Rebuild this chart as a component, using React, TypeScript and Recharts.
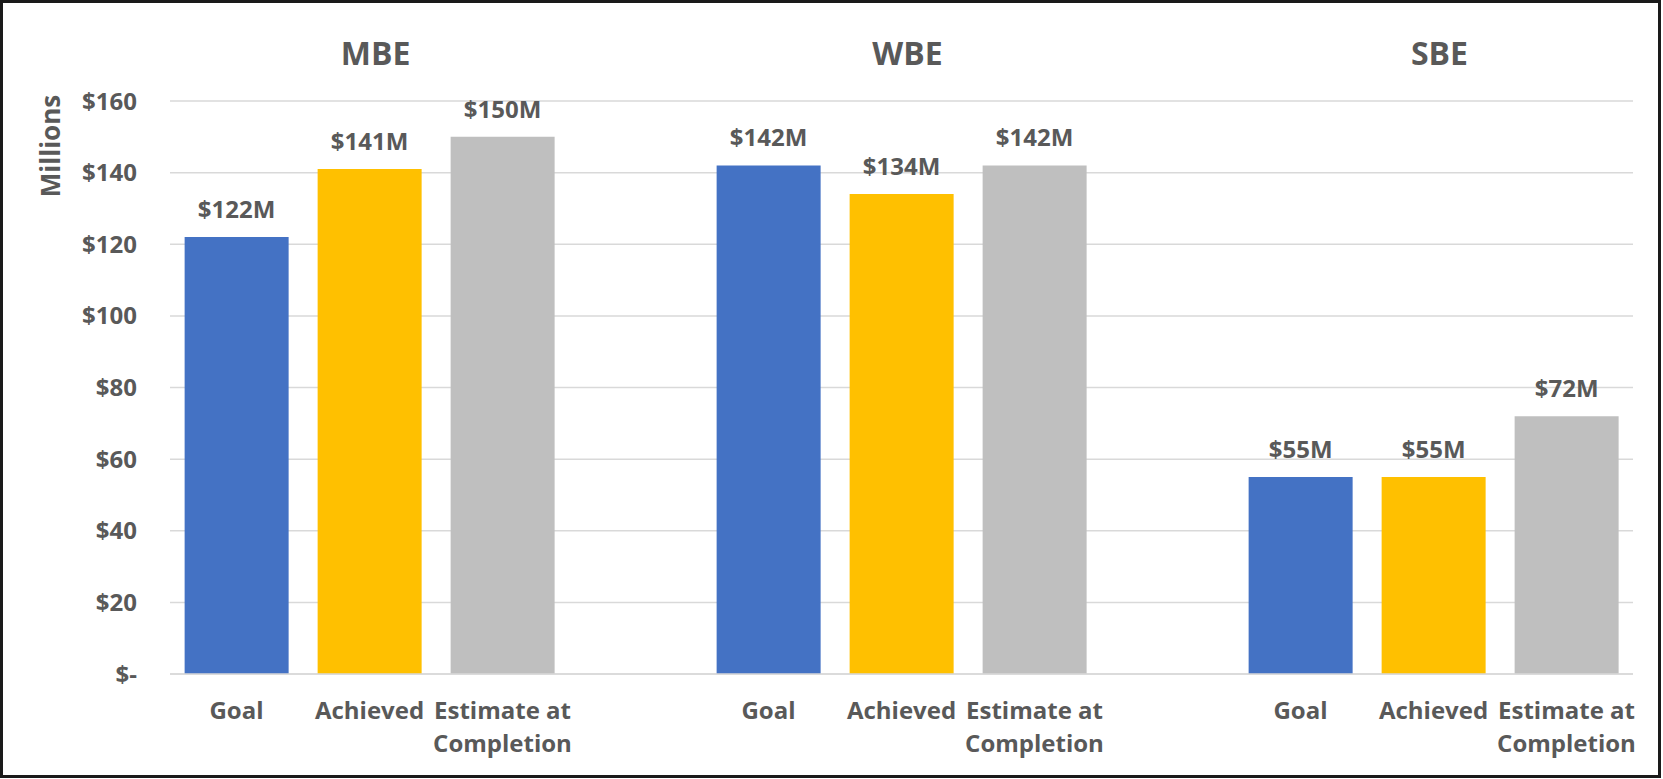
import React from "react";
import { BarChart, Bar, XAxis, YAxis, CartesianGrid, Cell, LabelList, Label } from "recharts";

const groups = ["MBE", "WBE", "SBE"];
const categories = ["Goal", "Achieved", "Estimate at\nCompletion"];
const goalValues = [122, 142, 55];
const achievedValues = [141, 134, 55];
const estimateValues = [150, 142, 72];
const yTicks = [0, 20, 40, 60, 80, 100, 120, 140, 160];
const seriesColors = ["#4472C4", "#FFC000", "#BFBFBF"];

const TEXT = "#595959";
const FONT = "'Open Sans', 'Liberation Sans', sans-serif";

type Row = { key: string; category: string; title: string; value: number | null; fill: string };

const rows: Row[] = [];
groups.forEach((g, gi) => {
  const vals = [goalValues[gi], achievedValues[gi], estimateValues[gi]];
  categories.forEach((c, ci) => {
    rows.push({ key: `${g}-${ci}`, category: c, title: ci === 1 ? g : "", value: vals[ci], fill: seriesColors[ci] });
  });
  if (gi < groups.length - 1) {
    rows.push({ key: `gap-${gi}`, category: "", title: "", value: null, fill: "none" });
  }
});

const BottomTick = (props: any) => {
  const { x, y, payload } = props;
  const row = rows[payload.index];
  if (!row || !row.category) return null;
  const lines = row.category.split("\n");
  return (
    <text x={x} y={y} textAnchor="middle" fill={TEXT} fontSize={24} fontWeight={700} fontFamily={FONT}>
      {lines.map((l, i) => (
        <tspan key={i} x={x} dy={i === 0 ? 17 : 33}>
          {l}
        </tspan>
      ))}
    </text>
  );
};

const TopTick = (props: any) => {
  const { x, y, payload } = props;
  const row = rows[payload.index];
  if (!row || !row.title) return null;
  return (
    <text x={x + 6} y={y} textAnchor="middle" fill={TEXT} fontSize={32} fontWeight={700} fontFamily={FONT}>
      {row.title}
    </text>
  );
};

const MillionsLabel = (props: any) => {
  const vb = props.viewBox || { x: 0, y: 101 };
  const cx = vb.x + 50;
  const cy = vb.y + 45;
  return (
    <text
      x={cx}
      y={cy}
      transform={`rotate(-90, ${cx}, ${cy})`}
      textAnchor="middle"
      dominantBaseline="central"
      fill={TEXT}
      fontSize={26}
      fontWeight={700}
      fontFamily={FONT}
    >
      Millions
    </text>
  );
};

export default function App() {
  return (
    <div style={{ position: "absolute", left: 0, top: 0, width: 1663, height: 779, background: "#fff", fontFamily: FONT }}>
      <BarChart
        width={1663}
        height={779}
        data={rows}
        margin={{ top: 0, right: 30, bottom: 0, left: 0 }}
        barCategoryGap="11%"
      >
        <CartesianGrid vertical={false} stroke="#D9D9D9" strokeWidth={1.5} />
        <XAxis
          xAxisId="top"
          orientation="top"
          dataKey="key"
          height={101}
          axisLine={false}
          tickLine={false}
          tickSize={0}
          tickMargin={36}
          interval={0}
          tick={<TopTick />}
        />
        <XAxis
          dataKey="key"
          height={105}
          axisLine={{ stroke: "#D9D9D9", strokeWidth: 1.5 }}
          tickLine={false}
          tickSize={0}
          tickMargin={28}
          interval={0}
          tick={<BottomTick />}
        />
        <YAxis
          width={170}
          domain={[0, 160]}
          ticks={yTicks}
          interval={0}
          axisLine={false}
          tickLine={false}
          tickSize={0}
          tickMargin={33}
          tickFormatter={(v: number) => (v === 0 ? "$-" : `$${v}`)}
          tick={{ fill: TEXT, fontSize: 24, fontWeight: 700, fontFamily: FONT }}
        >
          <Label content={<MillionsLabel />} />
        </YAxis>
        <Bar dataKey="value" isAnimationActive={false}>
          {rows.map((r) => (
            <Cell key={r.key} fill={r.fill} />
          ))}
          <LabelList
            dataKey="value"
            position="top"
            offset={19}
            formatter={(v: any) => (v == null ? "" : `$${v}M`)}
            fill={TEXT}
            fontSize={24}
            fontWeight={700}
            fontFamily={FONT}
          />
        </Bar>
      </BarChart>
      <div
        style={{
          position: "absolute",
          left: 0,
          top: 0,
          width: 1661,
          height: 778,
          boxSizing: "border-box",
          border: "3px solid #1a1a1a",
          pointerEvents: "none",
        }}
      />
    </div>
  );
}
